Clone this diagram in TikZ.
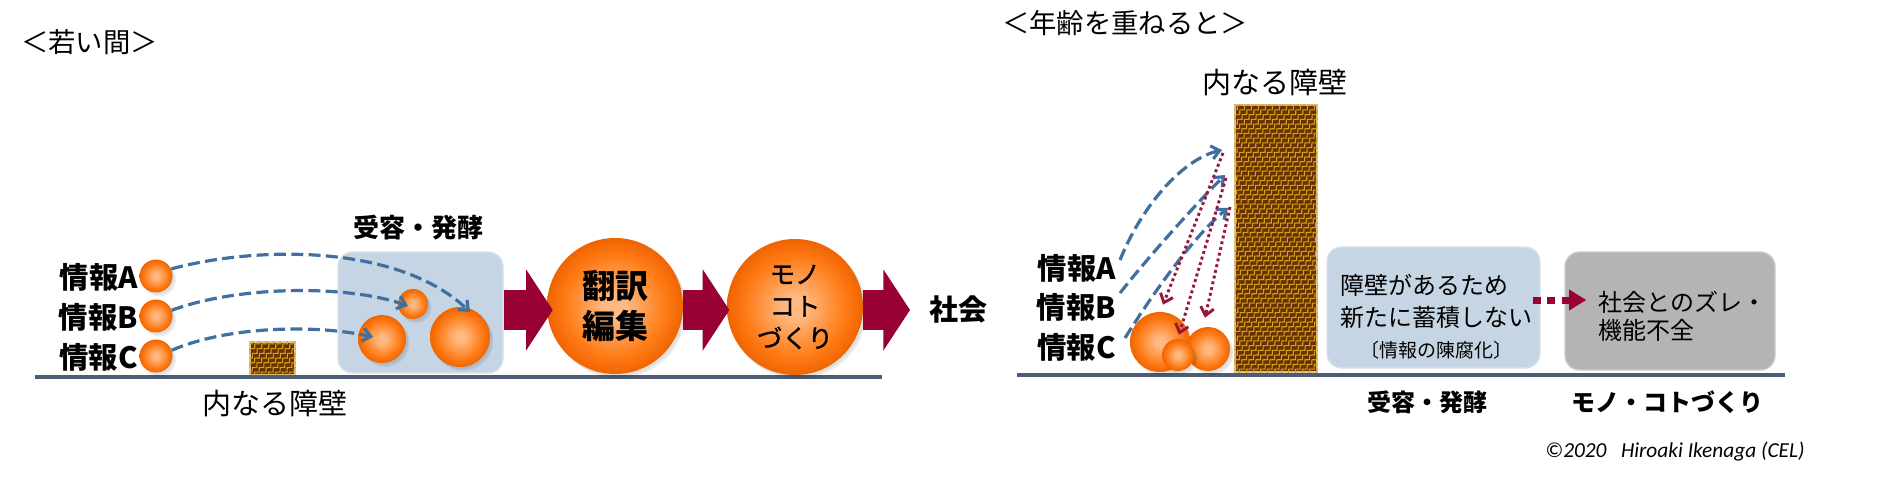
\documentclass[tikz,border=0pt]{standalone}
\usepackage{fontspec}
\newfontfamily\jp{Noto Sans CJK JP}
\newfontfamily\jpm[FakeBold=1.2]{Noto Sans CJK JP}
\newfontfamily\calf{Carlito}
\usetikzlibrary{arrows.meta,calc,decorations.pathmorphing}
\definecolor{orbA}{RGB}{255,185,130}
\definecolor{orbB}{RGB}{255,125,25}
\definecolor{orbC}{RGB}{240,100,0}
\definecolor{maroon}{RGB}{153,0,51}
\definecolor{dotmar}{RGB}{150,25,60}
\definecolor{dashblue}{RGB}{64,112,160}
\definecolor{groundc}{RGB}{76,92,114}
\definecolor{boxblue}{RGB}{198,213,227}
\definecolor{boxgray}{RGB}{180,180,180}
\definecolor{wallbrown}{RGB}{102,51,0}
\definecolor{wallgold}{RGB}{215,160,25}
\definecolor{wallrim}{RGB}{225,195,140}
\pgfdeclareradialshading{orb}{\pgfpoint{0bp}{0bp}}{color(0bp)=(orbA); color(4bp)=(orbA); color(18bp)=(orbB); color(25bp)=(orbC); color(50bp)=(orbC)}
\newcommand\wallfill[1]{%
  \begin{scope}
    \clip (#1.south west) rectangle (#1.north east);
    \foreach \k in {-40,...,14} {
      \draw[wallgold, line width=0.8pt, decorate, decoration={snake,amplitude=1.2pt,segment length=5pt}]
        ($(#1.south west)+(\k*7,4)$) -- ++(320,-320);
    }
  \end{scope}}
\begin{document}
\begin{tikzpicture}[x=0.75pt,y=-0.75pt,
  orbnode/.style={circle, shade, shading=orb, inner sep=0pt, minimum size=#1,
    preaction={fill=black, opacity=0.07, transform canvas={xshift=2.5pt,yshift=-3pt}},
    preaction={fill=black, opacity=0.06, transform canvas={xshift=1.5pt,yshift=-1.5pt}}},
  wallnode/.style={rectangle, fill=wallbrown, draw=wallrim, line width=0.8pt, inner sep=0pt},
  bigarr/.style={draw=maroon, line width=30pt, -{Triangle[length=20pt,width=60pt]}},
  bluedash/.style={draw=dashblue, line width=2.4pt, dash pattern=on 9pt off 4pt, -{Straight Barb[length=6pt,width=10pt]}},
  mardot/.style={draw=dotmar, line width=2.2pt, dash pattern=on 2.2pt off 2.2pt, -{Straight Barb[length=6pt,width=10pt]}},
  thickdot/.style={draw=maroon, line width=5.25pt, dash pattern=on 6pt off 5pt, -{Triangle[length=13pt,width=15pt]}},
  groundline/.style={draw=groundc, line width=3pt},
  infolab/.style={font=\jp\bfseries\fontsize{22}{26}\selectfont, inner sep=0pt, anchor=east},
  titlelab/.style={font=\jp\fontsize{20.5}{24}\selectfont, inner sep=0pt, anchor=west},
  barlab/.style={font=\jp\fontsize{21.75}{26}\selectfont, inner sep=0pt},
  boldlab/.style={font=\jp\bfseries\fontsize{#1}{#1}\selectfont, inner sep=0pt},
  boxtxt/.style={font=\jp\fontsize{18}{22}\selectfont, inner sep=0pt},
  roundbox/.style={rectangle, rounded corners=11pt, inner sep=0pt}
]
\useasboundingbox (0,0) rectangle (1878,478);
% ---------------- left panel ----------------
\node[titlelab] (t1) at (21,42) {＜若い間＞};
\node[roundbox, fill=boxblue, draw=boxblue!70!white, line width=1pt, minimum width=123.75pt, minimum height=90.75pt] (fb) at (420.5,312.5) {};
\node[boldlab=19.5] (fbl) at (418,228) {受容・発酵};
\node[wallnode, minimum width=33.75pt, minimum height=24.75pt] (w1) at (272.5,358.5) {};
\wallfill{w1}
\draw[groundline] (35,377) -- (882,377);
\node[barlab] (bl1) at (275,404) {内なる障壁};
\node[infolab] (iA) at (138,277) {情報A};
\node[infolab] (iB) at (138,317) {情報B};
\node[infolab] (iC) at (138,357) {情報C};
\node[orbnode=24.75pt] (a1) at (156,276) {};
\node[orbnode=24.75pt] (a2) at (156,316) {};
\node[orbnode=24.75pt] (a3) at (156,356) {};
\node[orbnode=22.5pt] (s1) at (413,304) {};
\node[orbnode=36pt] (s2) at (382,339) {};
\node[orbnode=45pt] (s3) at (460,337) {};
\node[orbnode=102pt, font=\jp\bfseries\fontsize{24.75}{30}\selectfont, align=center] (tr) at (615,306) {翻訳\\編集};
\node[orbnode=102pt, font=\jpm\fontsize{19}{24}\selectfont, align=center] (mk) at (795,307) {モノ\\コト\\づくり};
\node[boldlab=21.75] (soc) at (958,310) {社会};
\coordinate (arow) at (0,310);
\coordinate (socin) at (910,310);
\draw[bigarr, shorten >=-4.5pt] (fb.east |- arow) -- (tr.west |- arow);
\draw[bigarr, shorten >=-2pt] (tr.east |- arow) -- (mk.west |- arow);
\draw[bigarr] (mk.east |- arow) -- (socin);
\draw[bluedash] (a1.25) .. controls (260,245) and (400,245) .. ($(s3.center)+(10,-25)$);
\draw[bluedash] (a2.20) .. controls (240,285) and (350,285) .. ($(s1.center)+(-5,2)$);
\draw[bluedash] (a3.20) .. controls (230,325) and (320,325) .. ($(s2.center)+(-9,-2)$);
% ---------------- right panel ----------------
\node[titlelab] (t2) at (1002,23) {＜年齢を重ねると＞};
\node[barlab] (bl2) at (1275,83) {内なる障壁};
\node[wallnode, minimum width=61.5pt, minimum height=200.25pt] (w2) at (1276,238.5) {};
\wallfill{w2}
\node[roundbox, fill=boxblue, draw=boxblue!70!white, line width=1pt, minimum width=159.75pt, minimum height=90.75pt] (b2) at (1433.5,307.5) {};
\node[roundbox, fill=boxgray, draw=boxgray!70!white, line width=1pt, minimum width=157.5pt, minimum height=88.5pt] (b3) at (1670,311) {};
\draw[groundline] (1017,375) -- (1785,375);
\node[infolab] (iA2) at (1116,268) {情報A};
\node[infolab] (iB2) at (1116,307) {情報B};
\node[infolab] (iC2) at (1116,347) {情報C};
\node[orbnode=45pt] (c1) at (1160,342) {};
\node[orbnode=33pt] (c3) at (1208,349) {};
\node[orbnode=24pt] (c2) at (1178,355) {};
\coordinate (pA) at (1222,150);
\coordinate (pB) at (1225,175);
\coordinate (pC) at (1228,208);
\draw[bluedash] ($(iA2.east)+(4,-8)$) .. controls (1140,210) and (1180,160) .. (pA);
\draw[bluedash] ($(iB2.east)+(4,-14)$) .. controls (1150,255) and (1195,205) .. (pB);
\draw[bluedash] ($(iC2.east)+(9,-9)$) .. controls (1155,290) and (1195,235) .. (pC);
\draw[mardot] ($(pA)+(1,3)$) -- ($(c1.north)+(3,-7)$);
\draw[mardot] ($(pB)+(1,3)$) -- ($(c2.north)+(1,-4)$);
\draw[mardot] ($(pC)+(2,-1)$) -- ($(c3.north)+(-3,-9)$);
\node[boxtxt, anchor=west] (b2l1) at (1340,285) {障壁があるため};
\node[boxtxt, anchor=west] (b2l2) at (1340,317) {新たに蓄積しない};
\node[boxtxt, font=\jp\fontsize{14.25}{18}\selectfont] (b2l3) at (1436,350) {〔情報の陳腐化〕};
\node[boxtxt, anchor=west] (b3l1) at (1598,302) {社会とのズレ・};
\node[boxtxt, anchor=west] (b3l2) at (1598,330) {機能不全};
\draw[thickdot] ($(b2.east)+(-8,-7.5)$) -- ($(b3.west)+(22,-11)$);
\node[boldlab=18] (lb1) at (1427,402) {受容・発酵};
\node[boldlab=18] (lb2) at (1667,402) {モノ・コトづくり};
\node[font=\calf\itshape\fontsize{16}{19}\selectfont, inner sep=0pt] (cp) at (1675,452) {©2020\ \ \ Hiroaki Ikenaga (CEL)};
\end{tikzpicture}
\end{document}
